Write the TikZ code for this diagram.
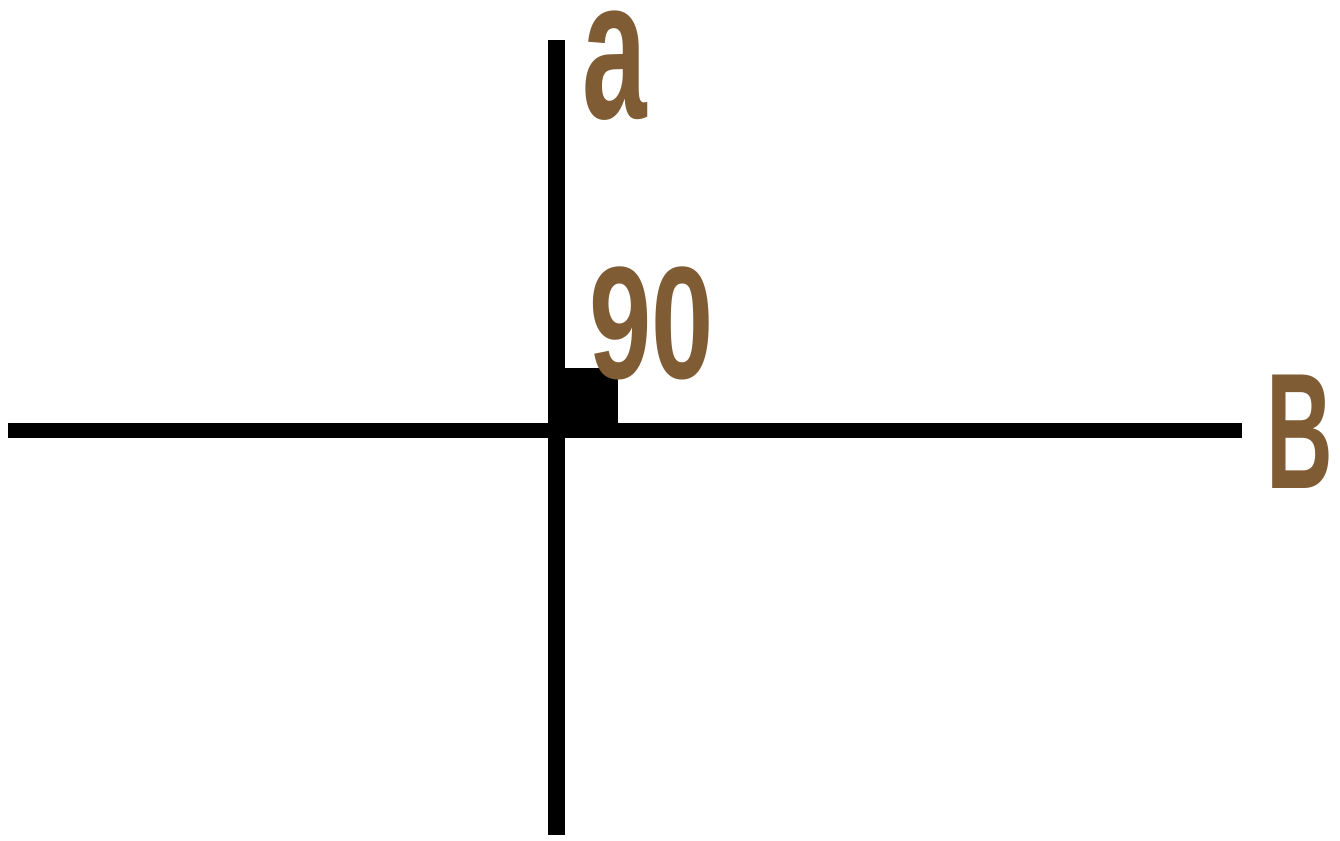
\documentclass[tikz,border=0pt]{standalone}
\usepackage{fontspec}
\setmainfont{Liberation Sans}
\definecolor{bronze}{RGB}{128,92,52}
\tikzset{
  axis/.style={line width=#1, black, line cap=butt},
  lbl/.style={anchor=base west, inner sep=0pt, text=bronze, font=\bfseries}
}
\begin{document}
\begin{tikzpicture}[x=1pt,y=-1pt]
\useasboundingbox (0,0) rectangle (1340,840);
\coordinate (top) at (556,40);
\coordinate (bot) at (556,835);
\coordinate (left) at (8,430);
\coordinate (right) at (1242,430);
\coordinate (O) at (556,430);
\coordinate (sq) at (618,368);
\draw[axis=17pt] (top) -- (bot);
\draw[axis=15pt] (left) -- (right);
\fill[black] (O) rectangle (sq);
\node[lbl, xscale=0.58] (la) at (582,118) {\fontsize{200}{200}\selectfont\bfseries a};
\node[lbl, xscale=0.7] (l90) at (589,378) {\fontsize{160}{160}\selectfont\bfseries 90};
\node[lbl, xscale=0.56] (lb) at (1266,488) {\fontsize{165}{165}\selectfont\bfseries B};
\end{tikzpicture}
\end{document}
